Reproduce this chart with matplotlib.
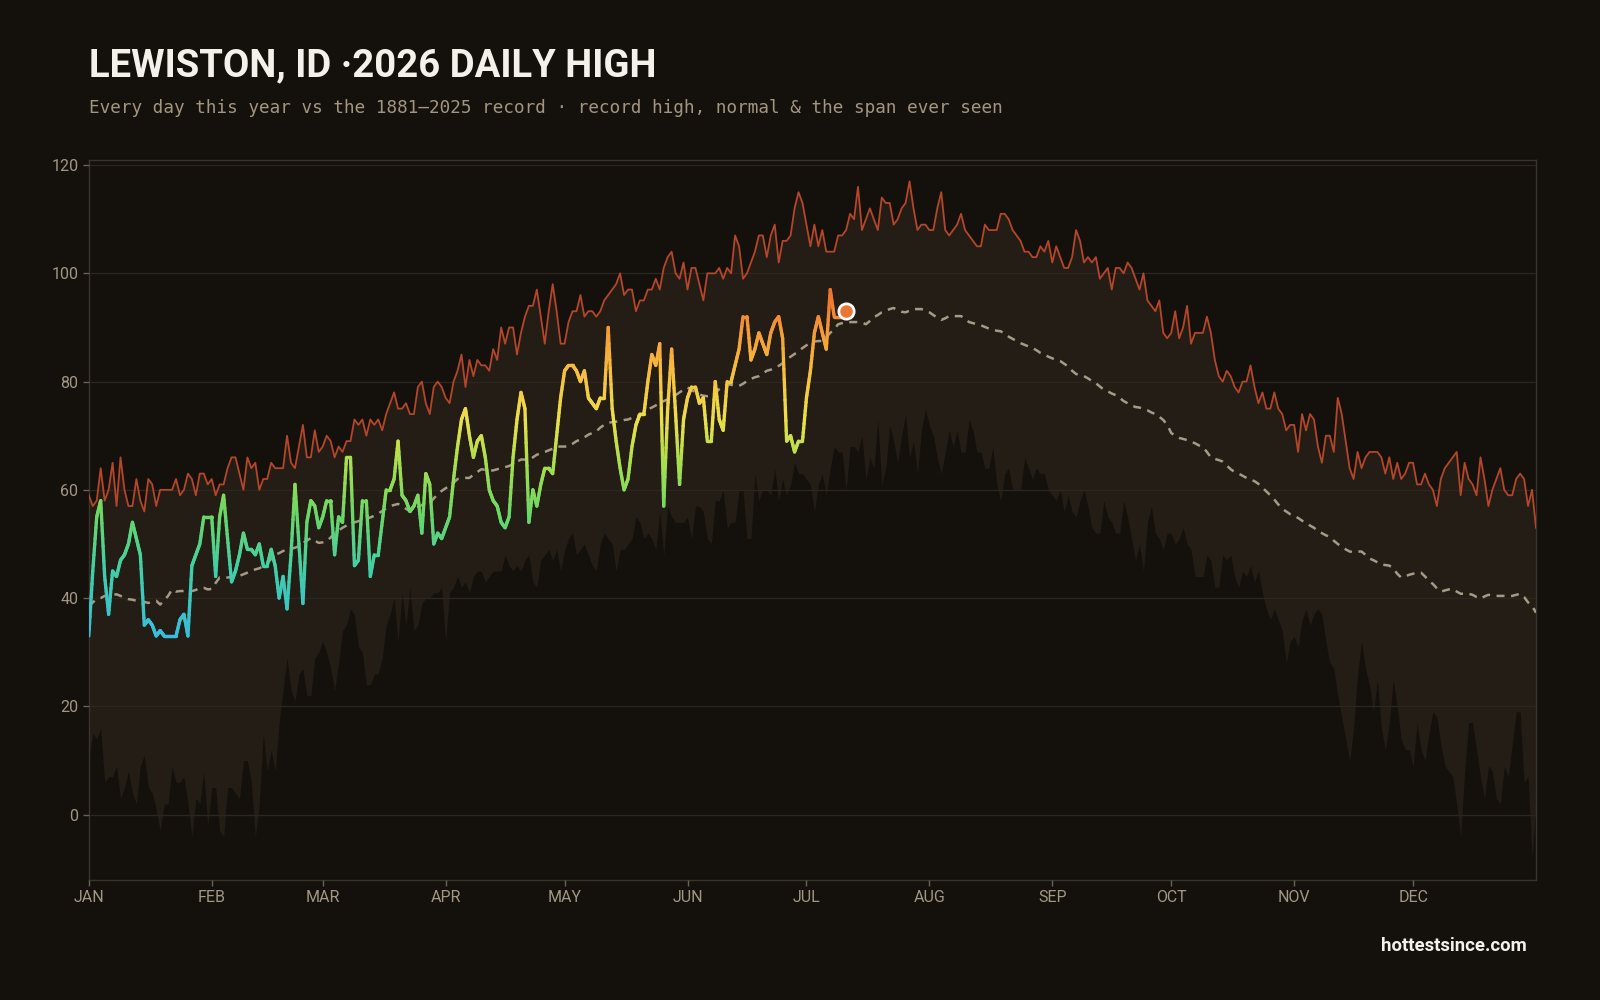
import matplotlib
matplotlib.use("Agg")
import matplotlib.pyplot as plt
import numpy as np
from matplotlib.collections import LineCollection
from matplotlib.colors import LinearSegmentedColormap

# ---- data (day-of-year index, 0 = Jan 1) ----
month_labels = ['JAN', 'FEB', 'MAR', 'APR', 'MAY', 'JUN', 'JUL', 'AUG', 'SEP', 'OCT', 'NOV', 'DEC']
month_starts = [0, 31, 59, 90, 120, 151, 181, 212, 243, 273, 304, 334]

record_high = [
    59, 57, 58, 64, 58, 60, 65, 57, 66, 60,
    57, 57, 62, 58, 56, 62, 61, 57, 60, 60,
    60, 60, 62, 59, 60, 63, 62, 59, 63, 63,
    61, 62, 59, 61, 61, 64, 66, 66, 63, 60,
    66, 64, 65, 60, 62, 62, 65, 64, 64, 64,
    70, 65, 64, 68, 72, 66, 66, 71, 67, 68,
    70, 69, 66, 68, 67, 69, 69, 73, 72, 73,
    70, 73, 72, 73, 71, 74, 76, 78, 75, 75,
    76, 74, 74, 79, 80, 76, 74, 79, 80, 79,
    77, 76, 80, 82, 85, 79, 84, 81, 84, 83,
    83, 82, 86, 84, 90, 87, 90, 90, 85, 89,
    92, 94, 94, 97, 92, 87, 93, 98, 93, 87,
    87, 91, 93, 93, 96, 92, 93, 93, 92, 93,
    95, 96, 97, 98, 100, 96, 97, 97, 93, 95,
    95, 97, 97, 99, 97, 101, 103, 104, 100, 99,
    102, 97, 101, 101, 98, 95, 100, 100, 100, 101,
    99, 101, 100, 107, 105, 99, 100, 102, 104, 107,
    107, 103, 107, 109, 102, 106, 106, 107, 112, 115,
    113, 109, 105, 109, 105, 108, 104, 104, 104, 107,
    107, 108, 111, 110, 116, 108, 110, 112, 110, 108,
    114, 113, 113, 109, 110, 112, 113, 117, 112, 108,
    109, 109, 108, 108, 112, 115, 108, 107, 108, 109,
    111, 108, 107, 106, 105, 105, 109, 108, 108, 108,
    111, 111, 110, 108, 107, 106, 104, 104, 103, 103,
    105, 104, 106, 102, 105, 103, 101, 101, 103, 108,
    106, 102, 103, 102, 103, 99, 100, 101, 97, 101,
    101, 100, 102, 101, 99, 97, 100, 95, 94, 93,
    95, 89, 88, 89, 93, 88, 90, 94, 87, 89,
    89, 89, 92, 89, 84, 81, 80, 82, 81, 79,
    78, 80, 80, 83, 79, 76, 78, 75, 75, 78,
    75, 74, 71, 72, 72, 67, 74, 71, 74, 73,
    68, 65, 70, 70, 67, 77, 74, 69, 64, 62,
    67, 64, 66, 67, 67, 67, 66, 63, 66, 62,
    65, 62, 63, 65, 65, 61, 61, 63, 61, 60,
    57, 62, 64, 65, 66, 67, 59, 65, 62, 61,
    59, 66, 62, 57, 60, 62, 64, 60, 59, 59,
    62, 63, 62, 57, 60, 53,
]

normal_high = [
    38.5, 39.2, 39.8, 40.0, 40.4, 40.5, 40.6, 40.7, 40.4, 40.1,
    39.8, 39.7, 39.5, 39.4, 39.3, 39.1, 39.3, 39.5, 38.8, 39.6,
    40.4, 41.6, 41.2, 41.3, 41.3, 41.1, 41.3, 41.5, 41.9, 41.9,
    41.6, 41.7, 42.8, 43.8, 43.7, 43.8, 43.9, 44.1, 44.1, 44.4,
    44.7, 45.0, 45.3, 45.5, 45.9, 46.5, 47.2, 48.0, 48.3, 48.7,
    48.9, 49.1, 49.3, 49.6, 50.2, 50.6, 51.1, 50.6, 50.2, 50.3,
    50.5, 51.2, 52.0, 52.5, 53.0, 53.4, 53.9, 54.0, 54.2, 54.5,
    54.6, 54.9, 55.2, 55.6, 56.1, 56.6, 57.0, 57.2, 57.4, 57.0,
    56.5, 56.0, 56.3, 56.8, 57.2, 57.5, 57.6, 58.4, 59.2, 59.8,
    60.3, 60.7, 61.3, 62.0, 62.1, 62.2, 62.2, 62.8, 63.3, 63.8,
    63.7, 63.5, 63.6, 63.8, 64.0, 64.2, 64.4, 64.8, 65.2, 65.6,
    65.6, 65.6, 66.0, 66.5, 66.7, 67.0, 67.3, 67.6, 68.0, 68.0,
    68.0, 68.0, 68.5, 69.0, 69.3, 69.7, 70.2, 70.5, 70.8, 71.5,
    72.0, 72.4, 72.5, 72.6, 72.7, 72.9, 73.0, 73.3, 73.6, 73.8,
    74.3, 74.9, 75.2, 75.6, 76.0, 76.4, 76.7, 77.0, 77.5, 78.0,
    78.5, 78.9, 78.5, 78.0, 77.6, 77.4, 77.3, 77.3, 77.9, 78.6,
    79.0, 79.5, 79.4, 79.2, 79.2, 79.6, 80.1, 80.5, 80.8, 81.0,
    81.5, 82.0, 82.2, 82.5, 82.9, 83.4, 84.1, 84.6, 85.1, 85.6,
    86.2, 86.7, 87.2, 87.4, 87.5, 87.5, 88.2, 89.0, 89.7, 90.6,
    90.8, 91.0, 91.0, 91.0, 91.0, 90.9, 90.6, 91.2, 91.9, 92.3,
    92.8, 93.1, 93.4, 93.6, 93.2, 92.9, 92.8, 93.1, 93.4, 93.4,
    93.4, 93.1, 92.8, 92.3, 91.8, 91.4, 91.7, 92.1, 92.1, 92.1,
    92.1, 91.6, 91.0, 90.8, 90.6, 90.4, 90.1, 89.8, 89.6, 89.4,
    89.3, 88.8, 88.3, 87.9, 87.5, 87.1, 86.8, 86.5, 86.2, 85.8,
    85.3, 85.0, 84.6, 84.3, 84.0, 83.8, 83.3, 82.8, 82.0, 81.4,
    81.2, 81.0, 80.6, 80.1, 79.7, 79.1, 78.5, 78.2, 77.8, 77.5,
    77.0, 76.4, 76.0, 75.6, 75.3, 75.2, 75.0, 74.7, 74.3, 74.0,
    73.5, 72.9, 72.0, 70.5, 70.0, 69.6, 69.4, 69.2, 68.9, 68.6,
    68.2, 67.9, 67.0, 66.0, 65.7, 65.5, 65.2, 64.5, 63.8, 63.3,
    63.0, 62.6, 62.2, 61.9, 61.6, 61.1, 60.4, 59.7, 59.0, 58.2,
    57.3, 56.5, 56.0, 55.5, 55.2, 54.8, 54.3, 53.9, 53.4, 53.0,
    52.3, 52.0, 51.6, 51.3, 50.6, 50.0, 49.5, 49.0, 48.6, 48.5,
    48.6, 48.6, 48.0, 47.3, 47.0, 46.6, 46.2, 46.1, 46.0, 45.5,
    44.5, 43.8, 44.0, 44.3, 44.5, 44.7, 44.7, 44.0, 43.2, 42.6,
    41.8, 41.2, 41.4, 41.6, 41.7, 41.2, 40.8, 40.8, 40.8, 40.6,
    40.2, 39.9, 40.3, 40.6, 40.5, 40.4, 40.4, 40.4, 40.4, 40.4,
    40.6, 40.8, 40.2, 39.2, 38.6, 37.3,
]

record_low = [
    10, 15, 14, 16, 6, 7, 7, 9, 3, 5,
    8, 4, 2, 9, 11, 5, 4, 1, -3, 2,
    2, 9, 6, 6, 7, 2, -4, 3, 2, 8,
    -2, 5, 5, -3, -4, 5, 5, 4, 3, 10,
    10, 6, -4, 2, 15, 8, 12, 8, 17, 23,
    29, 23, 21, 26, 27, 22, 22, 29, 30, 32,
    30, 27, 23, 28, 34, 35, 38, 37, 31, 30,
    24, 24, 26, 26, 29, 35, 37, 40, 32, 41,
    35, 42, 34, 35, 39, 40, 40, 41, 41, 42,
    32, 41, 42, 44, 42, 43, 41, 44, 45, 45,
    43, 44, 45, 45, 45, 48, 46, 45, 46, 45,
    47, 48, 43, 42, 47, 48, 49, 47, 49, 45,
    49, 51, 52, 48, 49, 50, 48, 46, 45, 50,
    52, 51, 50, 45, 49, 49, 50, 51, 55, 54,
    51, 52, 51, 49, 56, 48, 57, 55, 54, 54,
    54, 55, 51, 57, 57, 56, 51, 50, 58, 58,
    60, 53, 54, 54, 60, 60, 51, 51, 63, 58,
    60, 60, 59, 64, 58, 62, 59, 61, 65, 63,
    63, 62, 61, 56, 61, 63, 59, 64, 68, 67,
    67, 60, 68, 68, 67, 70, 62, 66, 64, 73,
    61, 64, 72, 69, 65, 70, 74, 66, 69, 63,
    71, 75, 72, 70, 66, 63, 67, 71, 68, 71,
    67, 67, 73, 71, 67, 67, 64, 64, 68, 61,
    58, 63, 64, 60, 60, 60, 66, 64, 62, 64,
    63, 63, 60, 59, 58, 60, 56, 59, 56, 55,
    58, 60, 57, 53, 52, 52, 58, 55, 54, 52,
    52, 58, 55, 51, 47, 50, 45, 54, 57, 52,
    51, 49, 52, 52, 50, 51, 53, 50, 49, 44,
    44, 44, 48, 47, 42, 42, 48, 47, 48, 44,
    42, 45, 44, 46, 43, 45, 41, 38, 36, 38,
    36, 34, 28, 32, 33, 31, 36, 38, 35, 37,
    38, 37, 32, 28, 27, 22, 18, 14, 10, 16,
    26, 32, 27, 24, 19, 25, 16, 12, 17, 25,
    20, 14, 12, 12, 9, 17, 12, 10, 15, 19,
    18, 13, 9, 8, 7, 2, -4, 8, 17, 17,
    12, 7, 3, 9, 8, 3, 2, 9, 7, 13,
    19, 19, 6, 7, -8, 2,
]

obs_2026 = [
    33, 45, 55, 58, 44, 37, 45, 44, 47, 48,
    50, 54, 51, 48, 35, 36, 35, 33, 34, 33,
    33, 33, 33, 36, 37, 33, 46, 48, 50, 55,
    55, 55, 44, 55, 59, 51, 43, 45, 48, 52,
    49, 49, 48, 50, 46, 46, 49, 46, 40, 44,
    38, 48, 61, 50, 39, 54, 58, 57, 53, 55,
    58, 58, 48, 55, 54, 66, 66, 46, 47, 58,
    58, 44, 48, 48, 54, 60, 60, 62, 69, 59,
    58, 56, 57, 59, 52, 63, 61, 50, 52, 51,
    53, 55, 62, 68, 73, 75, 70, 66, 69, 70,
    66, 60, 58, 57, 54, 53, 55, 66, 73, 78,
    75, 54, 60, 57, 61, 64, 64, 63, 70, 77,
    82, 83, 83, 82, 80, 82, 77, 76, 75, 77,
    77, 90, 75, 69, 64, 60, 62, 68, 72, 74,
    74, 80, 85, 83, 87, 57, 75, 86, 74, 61,
    73, 77, 79, 79, 76, 77, 69, 69, 80, 73,
    71, 80, 80, 83, 86, 92, 92, 84, 86, 89,
    87, 85, 89, 91, 92, 88, 69, 70, 67, 69,
    69, 77, 82, 89, 92, 89, 86, 97, 92, 92,
    92, 93,
]

# ---- style ----
BG = '#14110d'
BAND = '#241d16'
GRID = '#2c261e'
TICK = '#a39683'
RECORD_COLOR = '#b4462a'
NORMAL_COLOR = '#a49a86'

temp_cmap = LinearSegmentedColormap.from_list('temp', [
    (0.00, '#36bde0'),
    (0.20, '#40cfa8'),
    (0.35, '#68d768'),
    (0.50, '#a8df4c'),
    (0.62, '#ece04a'),
    (0.75, '#f7c040'),
    (0.87, '#f59a36'),
    (1.00, '#ee6a2a'),
])
vmin, vmax = 32, 98

fig = plt.figure(figsize=(16, 10), dpi=100, facecolor=BG)
ax = fig.add_axes([0.0555, 0.1205, 0.9045, 0.7198])
ax.set_facecolor(BG)

days = np.arange(len(record_high))
ax.fill_between(days, record_low, record_high, color=BAND, lw=0, zorder=1)
ax.plot(days, record_high, color=RECORD_COLOR, lw=1.3, zorder=3)
ax.plot(days, normal_high, color=NORMAL_COLOR, lw=1.8, ls=(0, (3.2, 2.6)), zorder=3)

# 2026 line, coloured along its length by temperature
obs = np.array(obs_2026, dtype=float)
n_sub = 10
segs, vals = [], []
for i in range(len(obs) - 1):
    t = np.linspace(0, 1, n_sub + 1)
    xs = i + t
    ys = obs[i] + (obs[i + 1] - obs[i]) * t
    for k in range(n_sub):
        segs.append([(xs[k], ys[k]), (xs[k + 1], ys[k + 1])])
        vals.append(0.5 * (ys[k] + ys[k + 1]))
lc = LineCollection(segs, cmap=temp_cmap, norm=plt.Normalize(vmin, vmax),
                    linewidths=2.4, capstyle='round', joinstyle='round', zorder=4)
lc.set_array(np.array(vals))
ax.add_collection(lc)

last = len(obs) - 1
ax.plot(last, obs[last], 'o', ms=11, mfc='#ee7433', mec='white', mew=2, zorder=5)

# axes
ax.set_xlim(0, 365)
ax.set_ylim(-12, 121)
ax.set_yticks(range(0, 121, 20))
ax.set_xticks(month_starts)
ax.set_xticklabels(month_labels)
ax.yaxis.grid(True, color=GRID, lw=0.9)
ax.set_axisbelow(False)
for s in ax.spines.values():
    s.set_color('#3a332b')
    s.set_linewidth(1)
    s.set_zorder(2)
ax.tick_params(colors='#6b6257', labelcolor=TICK, labelsize=11.5, length=4, width=1)
for lab in ax.get_xticklabels() + ax.get_yticklabels():
    lab.set_family('Roboto')

fig.text(0.0555, 0.934, 'LEWISTON, ID \u00b72026 DAILY HIGH', color='#f4f0ea',
         fontsize=27.5, fontweight='bold', family='Roboto', va='center', ha='left')
fig.text(0.0555, 0.892, 'Every day this year vs the 1881\u20132025 record \u00b7 record high, normal & the span ever seen',
         color='#a39580', fontsize=12.7, family='DejaVu Sans Mono', va='center', ha='left')
fig.text(0.9545, 0.054, 'hottestsince.com', color='#f4f0ea', fontsize=13.3,
         fontweight='bold', family='Roboto', va='center', ha='right')

fig.savefig('out.png', dpi=100, facecolor=BG)
